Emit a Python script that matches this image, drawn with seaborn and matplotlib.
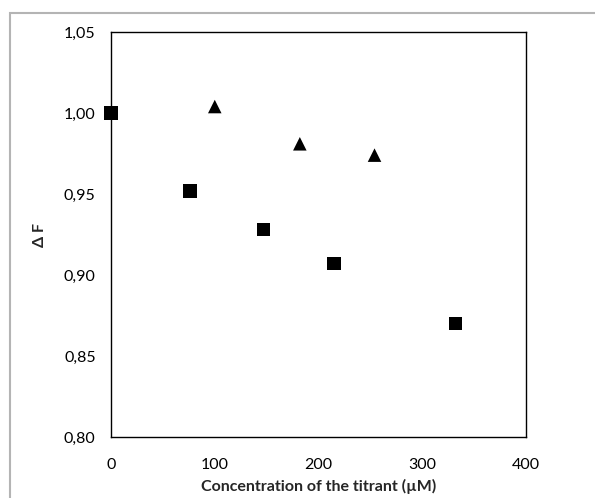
import numpy as np
import pandas as pd
import seaborn as sns

from matplotlib import pyplot as plt
from matplotlib.patches import Rectangle
from matplotlib.ticker import FuncFormatter

# squares
conc_sq = [0, 76, 147, 215, 332]
dF_sq = [1.000, 0.952, 0.928, 0.907, 0.870]
# triangles
conc_tri = [0, 100, 182, 254]
dF_tri = [1.000, 1.004, 0.981, 0.974]

sns.set_style("white")
plt.rcParams["font.family"] = ["Lato", "DejaVu Sans"]
plt.rcParams.update({
    "font.size": 11.5,
    "axes.linewidth": 1.0,
    "xtick.direction": "out",
    "ytick.direction": "out",
    "xtick.major.size": 5,
    "ytick.major.size": 5,
})

df = pd.DataFrame({
    "conc": conc_tri + conc_sq,
    "dF": dF_tri + dF_sq,
    "series": ["tri"] * len(conc_tri) + ["sq"] * len(conc_sq),
})

fig = plt.figure(figsize=(5.95, 4.98), dpi=100)
# light grey frame around the chart area (cut off at right/bottom)
fig.patches.append(Rectangle((10 / 595, -0.1), 1.2, 1 - 13 / 498 + 0.1,
                             transform=fig.transFigure, fill=False,
                             ec="#b4b4b4", lw=1.5))

ax = fig.add_axes([0.1866, 0.1225, 0.884 - 0.1866, 0.9357 - 0.1225])
sns.scatterplot(data=df, x="conc", y="dF", style="series",
                markers={"tri": "^", "sq": "s"}, color="black",
                s=95, edgecolor="none", legend=False, ax=ax, zorder=3)

ax.set_xlim(0, 400)
ax.set_ylim(0.80, 1.05)
ax.set_xticks([0, 100, 200, 300, 400])
ax.set_yticks(np.arange(0.80, 1.0501, 0.05))
ax.yaxis.set_major_formatter(FuncFormatter(lambda v, p: f"{v:.2f}".replace(".", ",")))
ax.tick_params(axis="x", colors="black", labelsize=11.5, width=1, pad=10)
ax.tick_params(axis="y", colors="black", labelsize=11.5, width=1, pad=6)
for sp in ax.spines.values():
    sp.set_color("black")
    sp.set_visible(True)
for c in ax.collections:
    c.set_clip_on(False)

ax.set_xlabel("Concentration of the titrant (µM)", fontweight="bold", fontsize=11.5, labelpad=5)
ax.set_ylabel("Δ F", fontweight="bold", fontsize=11.5, labelpad=12)

fig.savefig("out.png", dpi=100)
